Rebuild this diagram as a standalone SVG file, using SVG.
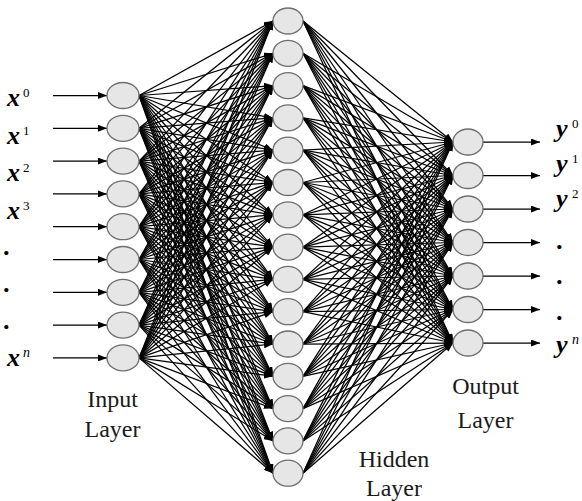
<svg xmlns="http://www.w3.org/2000/svg" width="582" height="501" viewBox="0 0 582 501">
<style>
.n{fill:#e6e6e6;stroke:#6e6e6e;stroke-width:1.3}
.c path{fill:none;stroke:#000;stroke-width:1.25;marker-end:url(#ah)}
.v{font-size:26px;font-weight:bold;font-style:italic}
.s{font-size:13px}
.si{font-size:14px;font-style:italic}
.l{font-size:24px;fill:#1a1a1a;text-anchor:middle}
</style>
<defs>
<marker id="ah" markerUnits="userSpaceOnUse" markerWidth="9" markerHeight="7" refX="9" refY="3.5" orient="auto"><path d="M0,0L9,3.5L0,7z" fill="#000"/></marker>
</defs>
<rect width="582" height="501" fill="#fff"/>
<g id="connectors" class="c">
<g id="in-arrows">
<path d="M53 95.5L107 95.5"/><path d="M53 128.3L107 128.3"/><path d="M53 161.1L107 161.1"/><path d="M53 193.9L107 193.9"/><path d="M53 226.7L107 226.7"/><path d="M53 259.5L107 259.5"/><path d="M53 292.3L107 292.3"/><path d="M53 325.1L107 325.1"/><path d="M53 357.9L107 357.9"/>
</g>
<g id="in-hidden">
<path d="M139 95.5L273 21"/><path d="M139 95.5L273 53.3"/><path d="M139 95.5L273 85.6"/><path d="M139 95.5L273 117.9"/><path d="M139 95.5L273 150.2"/><path d="M139 95.5L273 182.5"/><path d="M139 95.5L273 214.8"/><path d="M139 95.5L273 247.1"/><path d="M139 95.5L273 279.4"/><path d="M139 95.5L273 311.7"/><path d="M139 95.5L273 344"/><path d="M139 95.5L273 376.3"/><path d="M139 95.5L273 408.6"/><path d="M139 95.5L273 440.9"/><path d="M139 95.5L273 473.2"/>
<path d="M139 128.3L273 21"/><path d="M139 128.3L273 53.3"/><path d="M139 128.3L273 85.6"/><path d="M139 128.3L273 117.9"/><path d="M139 128.3L273 150.2"/><path d="M139 128.3L273 182.5"/><path d="M139 128.3L273 214.8"/><path d="M139 128.3L273 247.1"/><path d="M139 128.3L273 279.4"/><path d="M139 128.3L273 311.7"/><path d="M139 128.3L273 344"/><path d="M139 128.3L273 376.3"/><path d="M139 128.3L273 408.6"/><path d="M139 128.3L273 440.9"/><path d="M139 128.3L273 473.2"/>
<path d="M139 161.1L273 21"/><path d="M139 161.1L273 53.3"/><path d="M139 161.1L273 85.6"/><path d="M139 161.1L273 117.9"/><path d="M139 161.1L273 150.2"/><path d="M139 161.1L273 182.5"/><path d="M139 161.1L273 214.8"/><path d="M139 161.1L273 247.1"/><path d="M139 161.1L273 279.4"/><path d="M139 161.1L273 311.7"/><path d="M139 161.1L273 344"/><path d="M139 161.1L273 376.3"/><path d="M139 161.1L273 408.6"/><path d="M139 161.1L273 440.9"/><path d="M139 161.1L273 473.2"/>
<path d="M139 193.9L273 21"/><path d="M139 193.9L273 53.3"/><path d="M139 193.9L273 85.6"/><path d="M139 193.9L273 117.9"/><path d="M139 193.9L273 150.2"/><path d="M139 193.9L273 182.5"/><path d="M139 193.9L273 214.8"/><path d="M139 193.9L273 247.1"/><path d="M139 193.9L273 279.4"/><path d="M139 193.9L273 311.7"/><path d="M139 193.9L273 344"/><path d="M139 193.9L273 376.3"/><path d="M139 193.9L273 408.6"/><path d="M139 193.9L273 440.9"/><path d="M139 193.9L273 473.2"/>
<path d="M139 226.7L273 21"/><path d="M139 226.7L273 53.3"/><path d="M139 226.7L273 85.6"/><path d="M139 226.7L273 117.9"/><path d="M139 226.7L273 150.2"/><path d="M139 226.7L273 182.5"/><path d="M139 226.7L273 214.8"/><path d="M139 226.7L273 247.1"/><path d="M139 226.7L273 279.4"/><path d="M139 226.7L273 311.7"/><path d="M139 226.7L273 344"/><path d="M139 226.7L273 376.3"/><path d="M139 226.7L273 408.6"/><path d="M139 226.7L273 440.9"/><path d="M139 226.7L273 473.2"/>
<path d="M139 259.5L273 21"/><path d="M139 259.5L273 53.3"/><path d="M139 259.5L273 85.6"/><path d="M139 259.5L273 117.9"/><path d="M139 259.5L273 150.2"/><path d="M139 259.5L273 182.5"/><path d="M139 259.5L273 214.8"/><path d="M139 259.5L273 247.1"/><path d="M139 259.5L273 279.4"/><path d="M139 259.5L273 311.7"/><path d="M139 259.5L273 344"/><path d="M139 259.5L273 376.3"/><path d="M139 259.5L273 408.6"/><path d="M139 259.5L273 440.9"/><path d="M139 259.5L273 473.2"/>
<path d="M139 292.3L273 21"/><path d="M139 292.3L273 53.3"/><path d="M139 292.3L273 85.6"/><path d="M139 292.3L273 117.9"/><path d="M139 292.3L273 150.2"/><path d="M139 292.3L273 182.5"/><path d="M139 292.3L273 214.8"/><path d="M139 292.3L273 247.1"/><path d="M139 292.3L273 279.4"/><path d="M139 292.3L273 311.7"/><path d="M139 292.3L273 344"/><path d="M139 292.3L273 376.3"/><path d="M139 292.3L273 408.6"/><path d="M139 292.3L273 440.9"/><path d="M139 292.3L273 473.2"/>
<path d="M139 325.1L273 21"/><path d="M139 325.1L273 53.3"/><path d="M139 325.1L273 85.6"/><path d="M139 325.1L273 117.9"/><path d="M139 325.1L273 150.2"/><path d="M139 325.1L273 182.5"/><path d="M139 325.1L273 214.8"/><path d="M139 325.1L273 247.1"/><path d="M139 325.1L273 279.4"/><path d="M139 325.1L273 311.7"/><path d="M139 325.1L273 344"/><path d="M139 325.1L273 376.3"/><path d="M139 325.1L273 408.6"/><path d="M139 325.1L273 440.9"/><path d="M139 325.1L273 473.2"/>
<path d="M139 357.9L273 21"/><path d="M139 357.9L273 53.3"/><path d="M139 357.9L273 85.6"/><path d="M139 357.9L273 117.9"/><path d="M139 357.9L273 150.2"/><path d="M139 357.9L273 182.5"/><path d="M139 357.9L273 214.8"/><path d="M139 357.9L273 247.1"/><path d="M139 357.9L273 279.4"/><path d="M139 357.9L273 311.7"/><path d="M139 357.9L273 344"/><path d="M139 357.9L273 376.3"/><path d="M139 357.9L273 408.6"/><path d="M139 357.9L273 440.9"/><path d="M139 357.9L273 473.2"/>
</g>
<g id="hidden-out">
<path d="M303 21L453 142"/><path d="M303 21L453 175.5"/><path d="M303 21L453 209"/><path d="M303 21L453 242.5"/><path d="M303 21L453 276"/><path d="M303 21L453 309.5"/><path d="M303 21L453 343"/>
<path d="M303 53.3L453 142"/><path d="M303 53.3L453 175.5"/><path d="M303 53.3L453 209"/><path d="M303 53.3L453 242.5"/><path d="M303 53.3L453 276"/><path d="M303 53.3L453 309.5"/><path d="M303 53.3L453 343"/>
<path d="M303 85.6L453 142"/><path d="M303 85.6L453 175.5"/><path d="M303 85.6L453 209"/><path d="M303 85.6L453 242.5"/><path d="M303 85.6L453 276"/><path d="M303 85.6L453 309.5"/><path d="M303 85.6L453 343"/>
<path d="M303 117.9L453 142"/><path d="M303 117.9L453 175.5"/><path d="M303 117.9L453 209"/><path d="M303 117.9L453 242.5"/><path d="M303 117.9L453 276"/><path d="M303 117.9L453 309.5"/><path d="M303 117.9L453 343"/>
<path d="M303 150.2L453 142"/><path d="M303 150.2L453 175.5"/><path d="M303 150.2L453 209"/><path d="M303 150.2L453 242.5"/><path d="M303 150.2L453 276"/><path d="M303 150.2L453 309.5"/><path d="M303 150.2L453 343"/>
<path d="M303 182.5L453 142"/><path d="M303 182.5L453 175.5"/><path d="M303 182.5L453 209"/><path d="M303 182.5L453 242.5"/><path d="M303 182.5L453 276"/><path d="M303 182.5L453 309.5"/><path d="M303 182.5L453 343"/>
<path d="M303 214.8L453 142"/><path d="M303 214.8L453 175.5"/><path d="M303 214.8L453 209"/><path d="M303 214.8L453 242.5"/><path d="M303 214.8L453 276"/><path d="M303 214.8L453 309.5"/><path d="M303 214.8L453 343"/>
<path d="M303 247.1L453 142"/><path d="M303 247.1L453 175.5"/><path d="M303 247.1L453 209"/><path d="M303 247.1L453 242.5"/><path d="M303 247.1L453 276"/><path d="M303 247.1L453 309.5"/><path d="M303 247.1L453 343"/>
<path d="M303 279.4L453 142"/><path d="M303 279.4L453 175.5"/><path d="M303 279.4L453 209"/><path d="M303 279.4L453 242.5"/><path d="M303 279.4L453 276"/><path d="M303 279.4L453 309.5"/><path d="M303 279.4L453 343"/>
<path d="M303 311.7L453 142"/><path d="M303 311.7L453 175.5"/><path d="M303 311.7L453 209"/><path d="M303 311.7L453 242.5"/><path d="M303 311.7L453 276"/><path d="M303 311.7L453 309.5"/><path d="M303 311.7L453 343"/>
<path d="M303 344L453 142"/><path d="M303 344L453 175.5"/><path d="M303 344L453 209"/><path d="M303 344L453 242.5"/><path d="M303 344L453 276"/><path d="M303 344L453 309.5"/><path d="M303 344L453 343"/>
<path d="M303 376.3L453 142"/><path d="M303 376.3L453 175.5"/><path d="M303 376.3L453 209"/><path d="M303 376.3L453 242.5"/><path d="M303 376.3L453 276"/><path d="M303 376.3L453 309.5"/><path d="M303 376.3L453 343"/>
<path d="M303 408.6L453 142"/><path d="M303 408.6L453 175.5"/><path d="M303 408.6L453 209"/><path d="M303 408.6L453 242.5"/><path d="M303 408.6L453 276"/><path d="M303 408.6L453 309.5"/><path d="M303 408.6L453 343"/>
<path d="M303 440.9L453 142"/><path d="M303 440.9L453 175.5"/><path d="M303 440.9L453 209"/><path d="M303 440.9L453 242.5"/><path d="M303 440.9L453 276"/><path d="M303 440.9L453 309.5"/><path d="M303 440.9L453 343"/>
<path d="M303 473.2L453 142"/><path d="M303 473.2L453 175.5"/><path d="M303 473.2L453 209"/><path d="M303 473.2L453 242.5"/><path d="M303 473.2L453 276"/><path d="M303 473.2L453 309.5"/><path d="M303 473.2L453 343"/>
</g>
<g id="out-arrows">
<path d="M483 142L540 142"/><path d="M483 175.5L540 175.5"/><path d="M483 209L540 209"/><path d="M483 242.5L540 242.5"/><path d="M483 276L540 276"/><path d="M483 309.5L540 309.5"/><path d="M483 343L540 343"/>
</g>
</g>
<g id="input-layer">
<g id="in0"><ellipse class="n" cx="123" cy="95.5" rx="16" ry="13"/></g>
<g id="in1"><ellipse class="n" cx="123" cy="128.3" rx="16" ry="13"/></g>
<g id="in2"><ellipse class="n" cx="123" cy="161.1" rx="16" ry="13"/></g>
<g id="in3"><ellipse class="n" cx="123" cy="193.9" rx="16" ry="13"/></g>
<g id="in4"><ellipse class="n" cx="123" cy="226.7" rx="16" ry="13"/></g>
<g id="in5"><ellipse class="n" cx="123" cy="259.5" rx="16" ry="13"/></g>
<g id="in6"><ellipse class="n" cx="123" cy="292.3" rx="16" ry="13"/></g>
<g id="in7"><ellipse class="n" cx="123" cy="325.1" rx="16" ry="13"/></g>
<g id="in8"><ellipse class="n" cx="123" cy="357.9" rx="16" ry="13"/></g>
</g>
<g id="hidden-layer">
<g id="h0"><ellipse class="n" cx="288" cy="21" rx="15" ry="13"/></g>
<g id="h1"><ellipse class="n" cx="288" cy="53.3" rx="15" ry="13"/></g>
<g id="h2"><ellipse class="n" cx="288" cy="85.6" rx="15" ry="13"/></g>
<g id="h3"><ellipse class="n" cx="288" cy="117.9" rx="15" ry="13"/></g>
<g id="h4"><ellipse class="n" cx="288" cy="150.2" rx="15" ry="13"/></g>
<g id="h5"><ellipse class="n" cx="288" cy="182.5" rx="15" ry="13"/></g>
<g id="h6"><ellipse class="n" cx="288" cy="214.8" rx="15" ry="13"/></g>
<g id="h7"><ellipse class="n" cx="288" cy="247.1" rx="15" ry="13"/></g>
<g id="h8"><ellipse class="n" cx="288" cy="279.4" rx="15" ry="13"/></g>
<g id="h9"><ellipse class="n" cx="288" cy="311.7" rx="15" ry="13"/></g>
<g id="h10"><ellipse class="n" cx="288" cy="344" rx="15" ry="13"/></g>
<g id="h11"><ellipse class="n" cx="288" cy="376.3" rx="15" ry="13"/></g>
<g id="h12"><ellipse class="n" cx="288" cy="408.6" rx="15" ry="13"/></g>
<g id="h13"><ellipse class="n" cx="288" cy="440.9" rx="15" ry="13"/></g>
<g id="h14"><ellipse class="n" cx="288" cy="473.2" rx="15" ry="13"/></g>
</g>
<g id="output-layer">
<g id="o0"><ellipse class="n" cx="468" cy="142" rx="15" ry="13"/></g>
<g id="o1"><ellipse class="n" cx="468" cy="175.5" rx="15" ry="13"/></g>
<g id="o2"><ellipse class="n" cx="468" cy="209" rx="15" ry="13"/></g>
<g id="o3"><ellipse class="n" cx="468" cy="242.5" rx="15" ry="13"/></g>
<g id="o4"><ellipse class="n" cx="468" cy="276" rx="15" ry="13"/></g>
<g id="o5"><ellipse class="n" cx="468" cy="309.5" rx="15" ry="13"/></g>
<g id="o6"><ellipse class="n" cx="468" cy="343" rx="15" ry="13"/></g>
</g>
<g id="input-labels" font-family="Liberation Serif, DejaVu Serif, serif" fill="#000">
<text class="v" x="7" y="106">x</text><text class="s" x="23" y="97">0</text>
<text class="v" x="7" y="144">x</text><text class="s" x="23" y="135">1</text>
<text class="v" x="7" y="181">x</text><text class="s" x="23" y="172">2</text>
<text class="v" x="7" y="219">x</text><text class="s" x="23" y="210">3</text>
<text class="v" x="4" y="255">.</text>
<text class="v" x="4" y="292">.</text>
<text class="v" x="4" y="329">.</text>
<text class="v" x="7" y="366">x</text><text class="si" x="23" y="357">n</text>
</g>
<g id="output-labels" font-family="Liberation Serif, DejaVu Serif, serif" fill="#000">
<text class="v" x="556" y="137">y</text><text class="s" x="572" y="128">0</text>
<text class="v" x="556" y="172">y</text><text class="s" x="572" y="163">1</text>
<text class="v" x="556" y="207">y</text><text class="s" x="572" y="198">2</text>
<text class="v" x="557" y="249">.</text>
<text class="v" x="557" y="284">.</text>
<text class="v" x="557" y="320">.</text>
<text class="v" x="556" y="353">y</text><text class="si" x="572" y="344">n</text>
</g>
<g id="layer-labels" font-family="Liberation Serif, DejaVu Serif, serif">
<text class="l" x="112.5" y="407">Input</text><text class="l" x="112.5" y="437">Layer</text>
<text class="l" x="394" y="467">Hidden</text><text class="l" x="394" y="496">Layer</text>
<text class="l" x="485.5" y="394">Output</text><text class="l" x="485.5" y="428">Layer</text>
</g>
</svg>
